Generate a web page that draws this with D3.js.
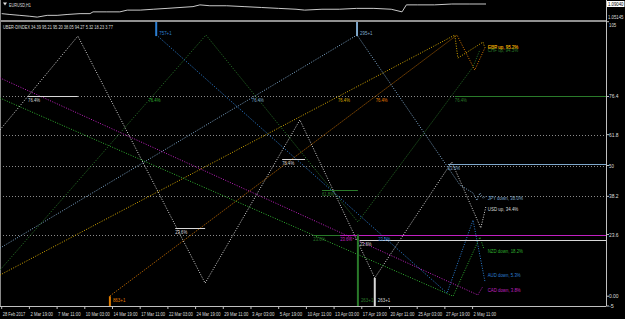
<!DOCTYPE html>
<html><head><meta charset="utf-8">
<script src="https://cdn.jsdelivr.net/npm/d3@7"></script>
<style>body{margin:0;background:#000}svg{display:block}</style>
</head><body>
<svg id="c" width="625" height="319"></svg>
<script>
// ---------------- DATA ----------------
const timeLabels = ["28 Feb 2017","2 Mar 19:00","7 Mar 11:00","10 Mar 03:00","14 Mar 19:00","17 Mar 11:00","22 Mar 03:00","24 Mar 19:00","29 Mar 11:00","3 Apr 03:00","5 Apr 19:00","10 Apr 11:00","13 Apr 03:00","17 Apr 19:00","20 Apr 11:00","25 Apr 03:00","27 Apr 19:00","2 May 11:00"];
const timeLabelBars = [0,64,128,192,256,320,384,448,512,576,640,704,768,832,896,960,1024,1088];

const priceBars   = [0,19,42,65,82,105,128,151,181,204,211,243,273,290,320,350,382,412,442,458,481,520,560,600,640,680,700,740,780,820,860,900,925,935,960,1000,1040,1080,1119];
const priceValues = [1.0636,1.0612,1.0588,1.0563,1.0539,1.0588,1.0588,1.0612,1.0636,1.0636,1.0685,1.0685,1.0685,1.0734,1.0734,1.0758,1.0782,1.0807,1.0831,1.0880,1.0855,1.0855,1.0831,1.0807,1.0782,1.0758,1.0734,1.0758,1.0758,1.0782,1.0782,1.0758,1.0685,1.0880,1.0880,1.0880,1.0904,1.0904,1.0904];
const priceAxisLabels = ["1.09040","1.05145"];
const priceAxisValues = [1.0904,1.05145];

const indexTitle = "UBER-DINDEX 34.39 95.21 95.20 38.05 94.27 5.32 18.23 3.77";
const fibLevels = [76.4,61.8,50,38.2,23.6];
const axisTickLabels = ["105","76.4","61.8","50","38.2","23.6","0.00","-5"];
const axisTickValues = [105,76.4,61.8,50,38.2,23.6,0,-5];

const currencies = ["USD","EUR","GBP","JPY","CHF","AUD","NZD","CAD"];
const currentValues = [34.39,95.21,95.20,38.05,94.27,5.32,18.23,3.77];
const directions = ["up","up","up","down","up","down","down","down"];
const colors = ["#d8d8d8","#e07c00","#d8aa00","#7fa8cc","#2a7a2a","#2c7fd4","#2fae2f","#c020c0"];
const labelValues = [33.2,95.2,95.2,37.4,94.3,8.0,17.4,2.3];

// zigzag paths [bar, value]
const usdPath = [[-4,63.6],[176,99.5],[470,5.0],[689,67.4],[862,7.0],[1040,51.3],[1107,26.1],[1119,34.4]];
const eurPath = [[250,0.1],[1052,99.9],[1093,86.5],[1117,95.2]];
const gbpPath = [[-4,8.1],[1047,99.9],[1054,91.1],[1112,97.2],[1116,95.2]];
const jpyPath = [[-4,18.4],[821,99.9],[1059,42.5],[1089,39.5],[1098,36.6],[1105,39.5],[1112,37.5],[1118,38.1]];
const chfPath = [[-4,10],[472,99.9],[823,28.4],[1089,87.7],[1105,94.3]];
const audPath = [[357,100],[1029,1.2],[1089,29.1],[1117,5.3]];
const nzdPath = [[-4,75.8],[1043,0],[1105,22.6],[1114,18.2]];
const cadPath = [[-4,83.5],[1100,0.5],[1112,3.8]];
const paths = [usdPath,eurPath,gbpPath,jpyPath,chfPath,audPath,nzdPath,cadPath];

// fib crossing annotations: currency index, start bar, end bar (null = to edge), value, label
const fibMarkCurrency = [0,0,0,0,6,3,2,1,4,4,4,3,7,5];
const fibMarkStart    = [61,401,648,827,339,578,777,864,1047,740,720,1031,782,870];
const fibMarkEnd      = [176,470,701,null,null,null,null,null,null,823,823,null,null,null];
const fibMarkValue    = [76.4,26.0,52.5,21.4,76.4,76.4,76.4,76.4,76.4,40.6,23.6,50.6,23.6,23.6];
const fibMarkLabel    = ["76.4%","23.6%","76.4%","23.6%","76.4%","76.4%","76.4%","76.4%","76.4%","61.8%","23.6%","23.6%","23.6%","23.6%"];
const fibMarkLine     = [true,true,true,true,false,false,false,false,true,true,true,true,true,false];

// vertical swing markers: currency index, bar, from value, to edge, text
const markCurrency = [5,3,1,4,0];
const markBar      = [357,821,250,823,862];
const markValue    = [99.5,99.5,0,23.6,7];
const markToTop    = [true,true,false,false,false];
const markText     = ["757+1","295+1","863+1","263+1","263+1"];

// ---------------- DRAW ----------------
const W=625,H=319, plotR=606, subTop=22, subBot=306, topBot=20;
const svg=d3.select("#c");
svg.append("rect").attr("width",W).attr("height",H).attr("fill","#000");
const font="Liberation Sans, Arial, sans-serif";
// narrow text: scale horizontally so its real box matches the target width
function txt(sel,x0,y0,s,fill,len,size){
  const t=sel.append("text").attr("x",0).attr("y",0).text(s).attr("fill",fill)
    .attr("font-size",size||5.6).attr("font-family",font);
  const target=len||s.length*2.3;
  const nat=t.node().getComputedTextLength()||target;
  t.attr("transform",`translate(${x0},${y0}) scale(${target/nat},1)`);
  return t;
}

const x=d3.scaleLinear().domain([0,1400]).range([1.7,1.7+1400*0.4328]);
const y=d3.scaleLinear().domain([-5,105]).range([309.3,21.7]);
const yp=d3.scaleLinear().domain([1.05145,1.0904]).range([18,4]);

const defs=svg.append("defs");
defs.append("clipPath").attr("id","clipSub").append("rect").attr("x",0).attr("y",subTop).attr("width",plotR).attr("height",subBot-subTop);
defs.append("clipPath").attr("id","clipTop").append("rect").attr("x",0).attr("y",0).attr("width",plotR).attr("height",topBot);

// top panel
svg.append("path").datum(priceBars.map((b,i)=>[b,priceValues[i]]))
  .attr("clip-path","url(#clipTop)")
  .attr("d",d3.line().x(d=>x(d[0])).y(d=>yp(d[1])))
  .attr("fill","none").attr("stroke","#c8c8c8").attr("stroke-width",1);
svg.append("path").attr("d","M3,2.5 L7,2.5 L5,5.5 Z").attr("fill","#ddd");
txt(svg,9,6.5,"EURUSD,H1","#ddd",22);
// price axis labels
priceAxisValues.forEach((v,i)=>{
  if(i===0){
    svg.append("rect").attr("x",607).attr("y",yp(v)-3).attr("width",17.5).attr("height",6).attr("fill","#fff");
    txt(svg,608,yp(v)+2,priceAxisLabels[i],"#000",15.5,5);
  } else {
    txt(svg,608,18.8,priceAxisLabels[i],"#ddd",15.5,5);
  }
});

// frame lines
svg.append("line").attr("x1",0).attr("x2",plotR).attr("y1",21).attr("y2",21).attr("stroke","#c0c0c0").attr("stroke-width",1.5);
svg.append("line").attr("x1",plotR+0.5).attr("x2",plotR+0.5).attr("y1",0).attr("y2",subBot).attr("stroke","#c0c0c0");
svg.append("line").attr("x1",0).attr("x2",plotR).attr("y1",subBot+0.5).attr("y2",subBot+0.5).attr("stroke","#c0c0c0");
svg.append("line").attr("x1",0.5).attr("x2",0.5).attr("y1",0).attr("y2",subBot).attr("stroke","#888");

const g=svg.append("g").attr("clip-path","url(#clipSub)");
// fib level dotted lines
g.selectAll(".lvl").data(fibLevels).join("line")
  .attr("x1",0).attr("x2",plotR).attr("y1",d=>Math.round(y(d))+0.5).attr("y2",d=>Math.round(y(d))+0.5)
  .attr("stroke","#8a8a8a").attr("stroke-dasharray","1,2");

// zigzags
paths.forEach((p,i)=>{
  g.append("path").datum(p).attr("d",d3.line().x(d=>x(d[0])).y(d=>y(d[1])))
   .attr("fill","none").attr("stroke",colors[i]).attr("stroke-width",1).attr("stroke-dasharray","1,1.5");
});

// fib annotations
fibMarkCurrency.forEach((c,i)=>{
  const yy=Math.round(y(fibMarkValue[i]))+0.5;
  if(fibMarkLine[i]){
    const x2 = fibMarkEnd[i]==null? plotR : x(fibMarkEnd[i]);
    g.append("line").attr("x1",x(fibMarkStart[i])).attr("x2",x2).attr("y1",yy).attr("y2",yy).attr("stroke",colors[c]).attr("stroke-width",1);
  }
  txt(g,x(fibMarkStart[i]),yy+5.5,fibMarkLabel[i],colors[c],12);
});

// vertical markers
markCurrency.forEach((c,i)=>{
  const xx=x(markBar[i]);
  const y1=y(markValue[i]), y2= markToTop[i]? subTop : subBot;
  g.append("line").attr("x1",xx).attr("x2",xx).attr("y1",y1).attr("y2",y2).attr("stroke",colors[c]).attr("stroke-width",2);
  txt(g,xx+3,markToTop[i]? y1-1 : subBot-4,markText[i],colors[c],12.5);
});

// current labels
currencies.forEach((c,i)=>{
  const s=`${c} ${directions[i]}, ${currentValues[i].toFixed(1)}%`;
  txt(g,x(1123),y(labelValues[i])+2,s,colors[i],s.length*2.35);
});

// right axis
axisTickValues.forEach((v,i)=>{
  const yy=Math.min(y(v),subBot);
  svg.append("line").attr("x1",plotR).attr("x2",plotR+3).attr("y1",yy).attr("y2",yy).attr("stroke","#c0c0c0");
  const ty = i===0 ? 26.5 : yy+2;
  txt(svg,609,ty,axisTickLabels[i],"#ddd",axisTickLabels[i].length*2.4,5.2);
});

txt(svg,3,28.5,indexTitle,"#ddd",110);

// time axis
timeLabelBars.forEach((b,i)=>{
  svg.append("line").attr("x1",x(b)).attr("x2",x(b)).attr("y1",subBot).attr("y2",subBot+3).attr("stroke","#c0c0c0");
  txt(svg,x(b)+1,315.5,timeLabels[i],"#ddd",Math.min(24,timeLabels[i].length*2.05));
});
</script>
</body></html>
